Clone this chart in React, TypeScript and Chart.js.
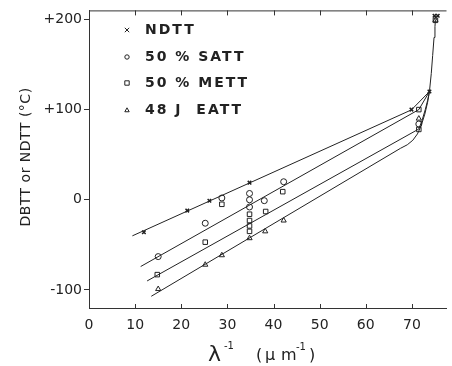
import React, { useEffect, useRef } from "react";
import { Chart, registerables } from "chart.js";
Chart.register(...registerables);

// ---- data ----
const xTicks = [0, 10, 20, 30, 40, 50, 60, 70];
const yTicks = [-100, 0, 100, 200];
const yTickLabels: Record<string, string> = { "-100": "-100", "0": "0", "100": "+100", "200": "+200" };
const legendLabels = ["NDTT", "50 % SATT", "50 % METT", "48 J  EATT"];

const ndttPoints = [
  { x: 11.9, y: -36 }, { x: 21.3, y: -12 }, { x: 26.1, y: -1 }, { x: 34.8, y: 19 },
  { x: 69.9, y: 100 }, { x: 73.8, y: 120 }, { x: 74.9, y: 204 }, { x: 75.6, y: 204 },
];
const sattPoints = [
  { x: 15, y: -63 }, { x: 25.2, y: -26 }, { x: 28.8, y: 2 }, { x: 34.8, y: 7 },
  { x: 34.8, y: 0 }, { x: 34.8, y: -8 }, { x: 38, y: -1 }, { x: 42.2, y: 20 }, { x: 71.5, y: 84 },
];
const mettPoints = [
  { x: 14.8, y: -83 }, { x: 25.2, y: -47 }, { x: 28.8, y: -5 }, { x: 34.8, y: -16 },
  { x: 34.8, y: -23 }, { x: 34.8, y: -29 }, { x: 34.8, y: -35 }, { x: 38.3, y: -13 },
  { x: 42, y: 9 }, { x: 71.5, y: 100 }, { x: 71.5, y: 78 }, { x: 75.1, y: 199 },
];
const eattPoints = [
  { x: 15, y: -99 }, { x: 25.2, y: -72 }, { x: 28.8, y: -61.5 }, { x: 34.8, y: -42.6 },
  { x: 38.2, y: -35 }, { x: 42.2, y: -23 }, { x: 71.5, y: 90 }, { x: 75.1, y: 199 },
];

const ndttLine = [{ x: 9.4, y: -40 }, { x: 69.9, y: 99.7 }, { x: 73.8, y: 120 }];
const sattLine = [{ x: 11.2, y: -74 }, { x: 71.5, y: 100 }, { x: 73.8, y: 120 }];
const mettLine = [
  { x: 12.6, y: -90 }, { x: 71.5, y: 78.5 }, { x: 72.2, y: 88 }, { x: 72.9, y: 100 },
  { x: 73.4, y: 110 }, { x: 73.8, y: 120 },
];
const eattLine = [
  { x: 13.5, y: -107 }, { x: 67.5, y: 57 }, { x: 69, y: 61 }, { x: 70.2, y: 66 }, { x: 71.2, y: 73 },
  { x: 72, y: 82 }, { x: 72.8, y: 95 }, { x: 73.4, y: 108 }, { x: 73.8, y: 120 },
];
const topCurve = [
  { x: 73.8, y: 120 }, { x: 74.2, y: 140 }, { x: 74.5, y: 160 }, { x: 74.8, y: 180 },
  { x: 75.0, y: 192 }, { x: 75.1, y: 200 },
];

const INK = "#222";

function drawMarker(ctx: CanvasRenderingContext2D, style: string, x: number, y: number, r: number) {
  ctx.beginPath();
  if (style === "crossRot") {
    ctx.moveTo(x - r, y - r); ctx.lineTo(x + r, y + r);
    ctx.moveTo(x + r, y - r); ctx.lineTo(x - r, y + r);
    ctx.stroke();
  } else if (style === "circle") {
    ctx.arc(x, y, r, 0, Math.PI * 2); ctx.stroke();
  } else if (style === "rect") {
    ctx.rect(x - r, y - r, 2 * r, 2 * r); ctx.stroke();
  } else if (style === "triangle") {
    ctx.moveTo(x, y - r); ctx.lineTo(x + r, y + r * 0.8); ctx.lineTo(x - r, y + r * 0.8); ctx.closePath(); ctx.stroke();
  }
}

const legendStyles = ["crossRot", "circle", "rect", "triangle"];

const customPlugin = {
  id: "custom",
  afterDraw(chart: any) {
    const { ctx, chartArea: a, scales } = chart;
    const xs = scales.x;
    ctx.save();
    ctx.strokeStyle = "#333";
    ctx.lineWidth = 1;
    // top border
    ctx.beginPath();
    ctx.moveTo(a.left, a.top + 0.5);
    ctx.lineTo(a.right, a.top + 0.5);
    ctx.stroke();
    // inward ticks top & bottom
    xTicks.forEach((v) => {
      if (v === 0) return;
      const px = Math.round(xs.getPixelForValue(v)) + 0.5;
      ctx.beginPath();
      ctx.moveTo(px, a.top); ctx.lineTo(px, a.top + 5);
      ctx.moveTo(px, a.bottom); ctx.lineTo(px, a.bottom - 4);
      ctx.stroke();
    });
    // legend
    ctx.fillStyle = INK;
    ctx.strokeStyle = INK;
    ctx.font = "bold 14px 'DejaVu Sans'";
    ctx.textBaseline = "middle";
    ctx.textAlign = "left";
    (ctx as any).letterSpacing = "2px";
    const rows = [30, 57, 83, 110];
    legendLabels.forEach((t, i) => {
      ctx.lineWidth = 1;
      drawMarker(ctx, legendStyles[i], 127, rows[i], 2.2);
      ctx.fillText(t, 145, rows[i]);
    });
    // y title
    (ctx as any).letterSpacing = "0.5px";
    ctx.save();
    ctx.translate(26, 157);
    ctx.rotate(-Math.PI / 2);
    ctx.textAlign = "center";
    ctx.font = "14px 'DejaVu Sans'";
    ctx.fillText("DBTT or NDTT (°C)", 0, 0);
    ctx.restore();
    // x title
    (ctx as any).letterSpacing = "0px";
    ctx.textAlign = "left";
    ctx.textBaseline = "alphabetic";
    const base = 361;
    ctx.font = "22px 'DejaVu Sans'";
    ctx.fillText("λ", 208, base);
    ctx.font = "10px 'DejaVu Sans'";
    ctx.fillText("-1", 224, base - 12);
    ctx.font = "16px 'DejaVu Sans'";
    ctx.fillText("(", 256, base - 1);
    ctx.fillText("μ", 265, base - 1);
    ctx.fillText("m", 281, base - 1);
    ctx.font = "10px 'DejaVu Sans'";
    ctx.fillText("-1", 296, base - 11);
    ctx.font = "16px 'DejaVu Sans'";
    ctx.fillText(")", 309, base - 1);
    ctx.restore();
  },
};

export default function App() {
  const ref = useRef<HTMLCanvasElement | null>(null);
  useEffect(() => {
    if (!ref.current) return;
    const pt = (data: any[], style: string, r: number, bw: number) => ({
      data, showLine: false, pointStyle: style, pointRadius: r, pointBorderWidth: bw,
      pointBorderColor: INK, pointBackgroundColor: "rgba(0,0,0,0)", borderColor: INK,
    });
    const ln = (data: any[]) => ({
      data, showLine: true, pointRadius: 0, borderColor: INK, borderWidth: 1, tension: 0,
    });
    const chart = new Chart(ref.current, {
      type: "scatter",
      data: {
        datasets: [
          ln(ndttLine), ln(sattLine), ln(mettLine), ln(eattLine), ln(topCurve),
          pt(ndttPoints, "crossRot", 2.5, 1.5), pt(sattPoints, "circle", 3, 1),
          pt(mettPoints, "rect", 3.2, 1), pt(eattPoints, "triangle", 3, 1),
        ] as any,
      },
      options: {
        animation: false,
        responsive: false,
        maintainAspectRatio: false,
        layout: { padding: { top: 10, right: 0, left: 0, bottom: 0 } },
        plugins: { legend: { display: false }, tooltip: { enabled: false } },
        scales: {
          x: {
            type: "linear", min: 0, max: 77.5,
            afterBuildTicks: (s: any) => { s.ticks = xTicks.map((v) => ({ value: v })); },
            afterFit: (s: any) => { s.height = 58; },
            grid: { display: false },
            border: { display: true, color: "#333", width: 1 },
            ticks: { color: INK, font: { family: "'DejaVu Sans'", size: 14 }, padding: 1, maxRotation: 0, autoSkip: false },
          },
          y: {
            type: "linear", min: -120, max: 210,
            afterBuildTicks: (s: any) => { s.ticks = yTicks.map((v) => ({ value: v })); },
            afterFit: (s: any) => { s.width = 89; },
            grid: { display: true, drawOnChartArea: false, drawTicks: true, tickLength: 5, color: "#333" },
            border: { display: true, color: "#333", width: 1 },
            ticks: {
              color: INK, font: { family: "'DejaVu Sans'", size: 14 }, padding: 2, autoSkip: false,
              callback: (v: any) => yTickLabels[String(v)] ?? String(v),
            },
          },
        },
      } as any,
      plugins: [customPlugin],
    });
    return () => chart.destroy();
  }, []);
  return (
    <div style={{ position: "fixed", left: 0, top: 0, width: 452, height: 366, background: "#fff" }}>
      <canvas ref={ref} width={452} height={366} style={{ width: 452, height: 366 }} />
    </div>
  );
}
